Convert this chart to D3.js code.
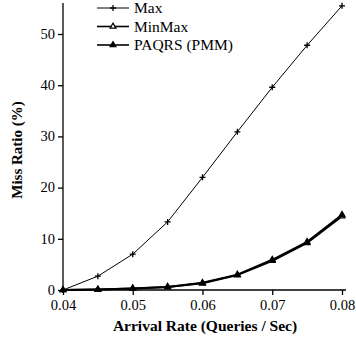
<!DOCTYPE html>
<html>
<head>
<meta charset="utf-8">
<script src="https://cdn.jsdelivr.net/npm/d3@7"></script>
<style>
  body { margin: 0; background: #fff; }
  text { font-family: "Liberation Serif", "DejaVu Serif", serif; }
</style>
</head>
<body>
<script>
const width = 356;
const height = 339;

// arrival rates (queries / sec)
const rates = [0.04, 0.045, 0.05, 0.055, 0.06, 0.065, 0.07, 0.075, 0.08];
const maxRatio = [0, 2.7, 7.0, 13.3, 22.0, 30.9, 39.6, 47.8, 55.5];
const minmaxRatio = [0, 0.1, 0.3, 0.6, 1.3, 2.9, 5.7, 9.2, 14.4];
const paqrsRatio = [0, 0.1, 0.3, 0.6, 1.4, 3.0, 5.9, 9.4, 14.7];
const xTicks = [0.04, 0.05, 0.06, 0.07, 0.08];
const yTicks = [0, 10, 20, 30, 40, 50];

const margin = {top: 3, right: 10, bottom: 49, left: 63};

const x = d3.scaleLinear().domain([0.04, 0.08]).range([margin.left, 342]);
const y = d3.scaleLinear().domain([0, 55]).range([290, 8.4]);

const svg = d3.select('body')
    .append('svg')
    .attr('width', width)
    .attr('height', height);

// axes
const xAxis = svg.append('g')
    .attr('transform', `translate(0, ${y(0)})`)
    .call(d3.axisBottom(x).tickValues(xTicks).tickFormat(d3.format('.2f')).tickSize(5).tickSizeOuter(0));
xAxis.select('.domain').attr('d', `M${margin.left},0H346`);
xAxis.selectAll('.tick text').attr('y', 10);

const yAxis = svg.append('g')
    .attr('transform', `translate(${margin.left}, 0)`)
    .call(d3.axisLeft(y).tickValues(yTicks).tickSize(5).tickSizeOuter(0));
yAxis.select('.domain').attr('d', `M0,${y(0)}V${margin.top}`);
yAxis.selectAll('.tick text').attr('dy', '0.3em');

svg.selectAll('.tick text')
    .style('font-family', '"Liberation Serif", serif')
    .style('font-size', '14.5px')
    .attr('fill', '#000');
svg.selectAll('.domain, .tick line').attr('stroke', '#000').attr('stroke-width', 1.3);

// axis titles
svg.append('text')
    .attr('x', 205)
    .attr('y', 331)
    .attr('text-anchor', 'middle')
    .style('font-weight', 'bold')
    .style('font-size', '15.5px')
    .text('Arrival Rate (Queries / Sec)');

svg.append('text')
    .attr('transform', 'translate(22, 150) rotate(-90)')
    .attr('text-anchor', 'middle')
    .style('font-weight', 'bold')
    .style('font-size', '15px')
    .text('Miss Ratio (%)');

const series = [
    {name: 'Max', values: maxRatio, width: 1, marker: 'plus'},
    {name: 'MinMax', values: minmaxRatio, width: 2, marker: 'open'},
    {name: 'PAQRS (PMM)', values: paqrsRatio, width: 2, marker: 'filled'}
];

const line = d3.line()
    .x(d => x(d[0]))
    .y(d => y(d[1]));

const tri = d3.symbol().type(d3.symbolTriangle).size(15);

function drawMarker(g, s, px, py) {
    if (s.marker === 'plus') {
        g.append('path')
            .attr('d', `M${px - 3},${py}H${px + 3}M${px},${py - 3}V${py + 3}`)
            .attr('stroke', '#000')
            .attr('stroke-width', 1.3);
    } else {
        g.append('path')
            .attr('d', tri)
            .attr('transform', `translate(${px}, ${py})`)
            .attr('fill', s.marker === 'filled' ? '#000' : '#fff')
            .attr('stroke', '#000')
            .attr('stroke-width', 1.2);
    }
}

series.forEach(s => {
    const pts = rates.map((r, i) => [r, s.values[i]]);
    svg.append('path')
        .datum(pts)
        .attr('d', line)
        .attr('fill', 'none')
        .attr('stroke', '#000')
        .attr('stroke-width', s.width);
    const g = svg.append('g');
    pts.forEach(p => drawMarker(g, s, x(p[0]), y(p[1])));
});

// legend
const legend = svg.append('g');
series.forEach((s, i) => {
    const ly = 8 + i * 18.5;
    legend.append('line')
        .attr('x1', 97).attr('x2', 129)
        .attr('y1', ly).attr('y2', ly)
        .attr('stroke', '#000')
        .attr('stroke-width', s.width === 1 ? 1 : 1.6);
    drawMarker(legend, s, 113, ly);
    legend.append('text')
        .attr('x', 134)
        .attr('y', ly + 5)
        .style('font-size', '15.5px')
        .text(s.name);
});
</script>
</body>
</html>
